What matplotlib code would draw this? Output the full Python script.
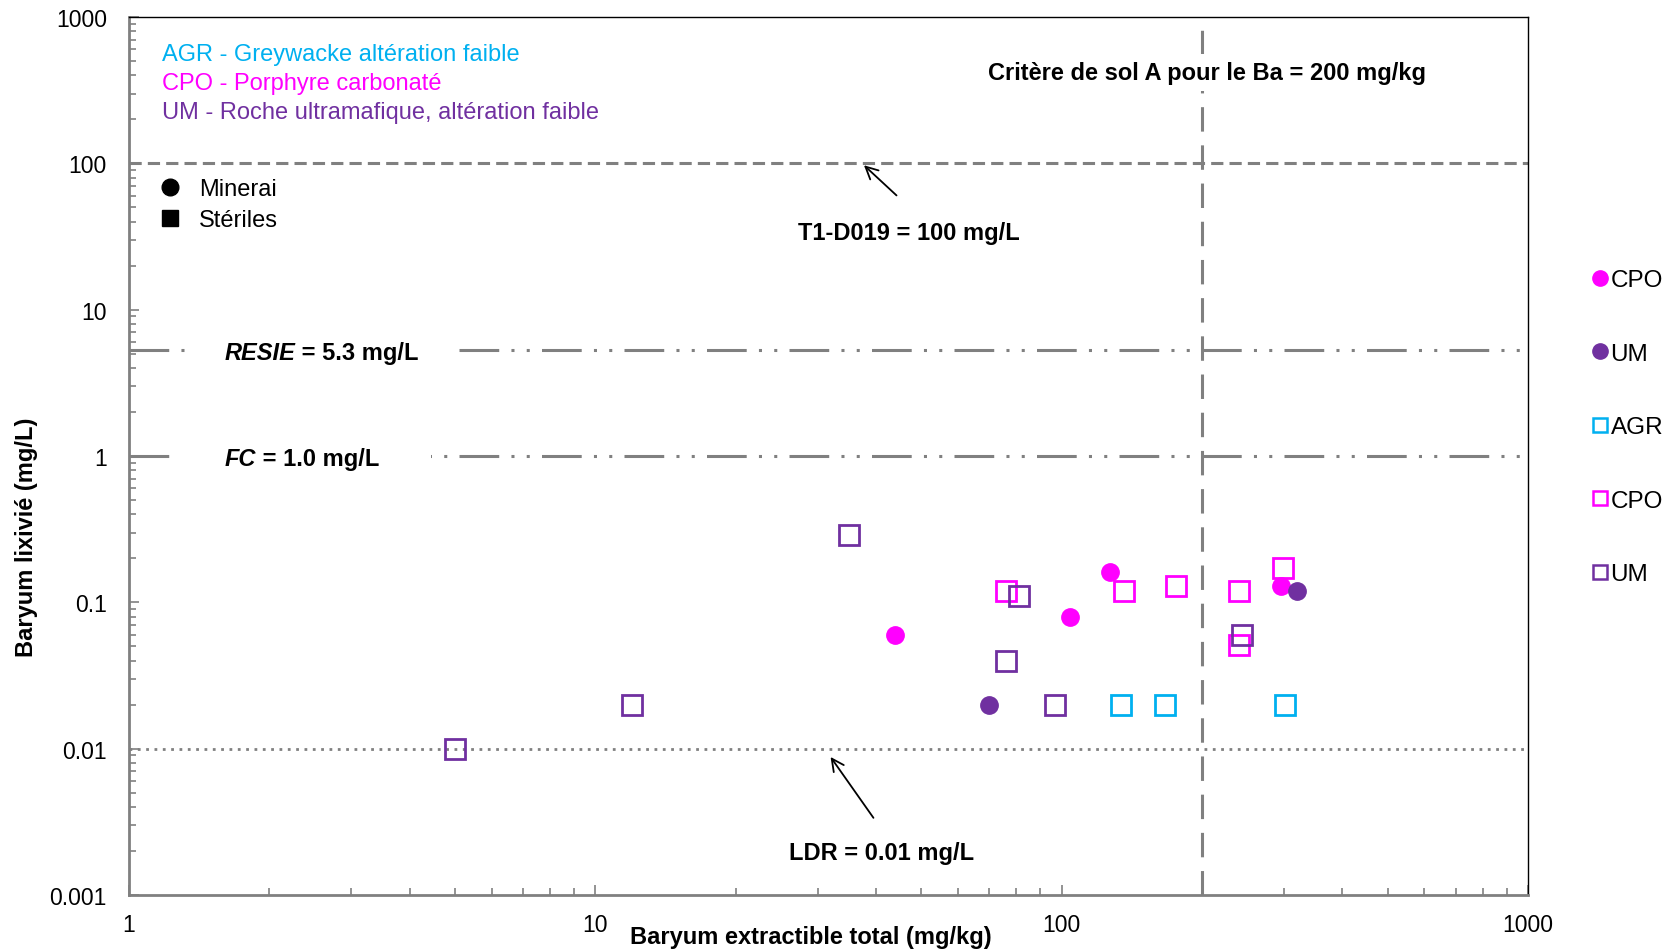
import matplotlib
matplotlib.use("Agg")
import matplotlib.pyplot as plt
from matplotlib.lines import Line2D
from matplotlib.ticker import LogLocator, FixedLocator, FixedFormatter, NullFormatter

plt.rcParams['font.family'] = ['Liberation Sans', 'DejaVu Sans']

# Colours per rock type
C_AGR = '#00B0F0'
C_CPO = '#FF00FF'
C_UM = '#7030A0'
GRAY = '#808080'

# Minerai (ore) samples - filled circles
cpo_ore_total = [44, 104, 127, 295]
cpo_ore_leach = [0.060, 0.080, 0.16, 0.13]
um_ore_total = [70, 320]
um_ore_leach = [0.020, 0.12]

# Stériles (waste rock) samples - open squares
agr_waste_total = [134, 167, 301]
agr_waste_leach = [0.020, 0.020, 0.020]
cpo_waste_total = [76, 136, 176, 240, 240, 299]
cpo_waste_leach = [0.12, 0.12, 0.13, 0.12, 0.051, 0.173]
um_waste_total = [5, 12, 35, 81, 76, 97, 244]
um_waste_leach = [0.010, 0.020, 0.29, 0.11, 0.040, 0.020, 0.060]

# Reference criteria
t1_d019 = 100.0
resie = 5.3
fc = 1.0
ldr = 0.01
soil_a = 200.0

x_ticks = [1, 10, 100, 1000]
x_tick_labels = ['1', '10', '100', '1000']
y_ticks = [0.001, 0.01, 0.1, 1, 10, 100, 1000]
y_tick_labels = ['0.001', '0.01', '0.1', '1', '10', '100', '1000']

FS = 17

fig = plt.figure(figsize=(16.73, 9.53), dpi=100)
ax = fig.add_axes([0.0771, 0.0598, 0.8362, 0.9213])
ax.set_xscale('log')
ax.set_yscale('log')
ax.set_xlim(1, 1000)
ax.set_ylim(0.001, 1000)

# Criteria lines
ax.axhline(t1_d019, color=GRAY, lw=2.2, ls=(0, (4, 2)), zorder=1)
ax.axvline(soil_a, color=GRAY, lw=2.2, ls=(0, (8, 4.5)), zorder=1)
dash_dot_dot = (0, (13, 4, 1, 4, 1, 4))
ax.axhline(resie, color=GRAY, lw=2.2, ls=dash_dot_dot, zorder=1)
ax.axhline(fc, color=GRAY, lw=2.2, ls=dash_dot_dot, zorder=1)
ax.axhline(ldr, color=GRAY, lw=2.0, ls=(0, (1, 2)), zorder=1)

ms_sq = 14
ms_ci = 12.5
ax.plot(cpo_ore_total, cpo_ore_leach, 'o', ms=ms_ci, color=C_CPO, mec=C_CPO, zorder=4)
ax.plot(um_ore_total, um_ore_leach, 'o', ms=ms_ci, color=C_UM, mec=C_UM, zorder=4)
ax.plot(agr_waste_total, agr_waste_leach, 's', ms=ms_sq, mfc='none', mec=C_AGR, mew=2, zorder=3)
ax.plot(cpo_waste_total, cpo_waste_leach, 's', ms=ms_sq, mfc='none', mec=C_CPO, mew=2, zorder=3)
ax.plot(um_waste_total, um_waste_leach, 's', ms=ms_sq, mfc='none', mec=C_UM, mew=2, zorder=3)

# Axes styling
for side in ('left', 'bottom'):
    ax.spines[side].set_color(GRAY)
    ax.spines[side].set_linewidth(2.0)
for side in ('top', 'right'):
    ax.spines[side].set_color('black')
    ax.spines[side].set_linewidth(1.0)

ax.xaxis.set_major_locator(FixedLocator(x_ticks))
ax.xaxis.set_major_formatter(FixedFormatter(x_tick_labels))
ax.yaxis.set_major_locator(FixedLocator(y_ticks))
ax.yaxis.set_major_formatter(FixedFormatter(y_tick_labels))
ax.xaxis.set_minor_locator(LogLocator(base=10, subs=range(2, 10)))
ax.yaxis.set_minor_locator(LogLocator(base=10, subs=range(2, 10)))
ax.xaxis.set_minor_formatter(NullFormatter())
ax.yaxis.set_minor_formatter(NullFormatter())
ax.tick_params(which='both', direction='in', color=GRAY, width=1.2, top=False, right=False)
ax.tick_params(which='major', length=7)
ax.tick_params(which='minor', length=5)
ax.tick_params(axis='x', which='major', pad=13, labelsize=16.5)
ax.tick_params(axis='y', which='major', pad=16, labelsize=16.5)

ax.set_xlabel('Baryum extractible total (mg/kg)', fontsize=FS, fontweight='bold')
ax.set_ylabel('Baryum lixivié (mg/L)', fontsize=FS, fontweight='bold')
ax.xaxis.set_label_coords(0.4875, -0.034)
ax.yaxis.set_label_coords(-0.065, 0.409)

# Rock-type descriptions
desc = [('AGR - Greywacke altération faible', C_AGR),
        ('CPO - Porphyre carbonaté', C_CPO),
        ('UM - Roche ultramafique, altération faible', C_UM)]
for i, (txt, col) in enumerate(desc):
    ax.text(0.0236, 0.9575 - i * 0.033, txt, color=col, fontsize=FS,
            transform=ax.transAxes, va='center', ha='left')

# Ore / waste symbol legend
sym_handles = [Line2D([], [], ls='none', marker='o', ms=12, color='black'),
               Line2D([], [], ls='none', marker='s', ms=11, color='black')]
leg_sym = ax.legend(sym_handles, ['Minerai', 'Stériles'], loc='upper left',
                    bbox_to_anchor=(0.006, 0.841), frameon=False, fontsize=FS,
                    handlelength=1.0, handletextpad=0.7, labelspacing=0.38)
ax.add_artist(leg_sym)

# Series legend outside the plot
ser_handles = [Line2D([], [], ls='none', marker='o', ms=11, color=C_CPO),
               Line2D([], [], ls='none', marker='o', ms=11, color=C_UM),
               Line2D([], [], ls='none', marker='s', ms=10.5, mfc='none', mec=C_AGR, mew=1.8),
               Line2D([], [], ls='none', marker='s', ms=10.5, mfc='none', mec=C_CPO, mew=1.8),
               Line2D([], [], ls='none', marker='s', ms=10.5, mfc='none', mec=C_UM, mew=1.8)]
ax.legend(ser_handles, ['CPO', 'UM', 'AGR', 'CPO', 'UM'], loc='upper left',
          bbox_to_anchor=(1.039, 0.724), frameon=False, fontsize=17.5,
          handlelength=0.6, handletextpad=0.15, labelspacing=2.12, borderaxespad=0)

# Criteria annotations
ax.text(0.7705, 0.937, 'Critère de sol A pour le Ba = 200 mg/kg', transform=ax.transAxes,
        ha='center', va='center', fontsize=FS, fontweight='bold', zorder=3,
        bbox=dict(facecolor='white', edgecolor='none', boxstyle='square,pad=0.3'))

ax.annotate('', xy=(37.3, t1_d019), xytext=(44.7, 58.6),
            arrowprops=dict(arrowstyle='->', color='black', lw=1.3, mutation_scale=22))
ax.text(47.1, 33.6, 'T1-D019 = 100 mg/L', ha='center', va='center',
        fontsize=FS, fontweight='bold')

ax.annotate('', xy=(31.7, 0.0091), xytext=(39.8, 0.00325),
            arrowprops=dict(arrowstyle='->', color='black', lw=1.3, mutation_scale=22))
ax.text(41.1, 0.00196, 'LDR = 0.01 mg/L', ha='center', va='center',
        fontsize=FS, fontweight='bold')


def criterion_label(x, y, name, rest, pad):
    """Italic name followed by bold value, with a white gap cut into the line."""
    for visible in (False, True):
        kw = dict(fontsize=FS, fontweight='bold', va='center', ha='left')
        if visible:
            kw.update(color='black', zorder=3)
        else:
            kw.update(color='none', zorder=2,
                      bbox=dict(facecolor='white', edgecolor='none',
                                boxstyle='square,pad=%g' % pad))
        t = ax.annotate(name, xy=(x, y), xytext=(0, -1.5), textcoords='offset points',
                        style='italic', **kw)
        ax.annotate(rest, xy=(1, 0.5), xycoords=t, **kw)


criterion_label(1.60, resie, 'RESIE', ' = 5.3 mg/L', 1.3)
criterion_label(1.60, fc, 'FC', ' = 1.0 mg/L', 2.2)

fig.savefig('out.png', dpi=100)
